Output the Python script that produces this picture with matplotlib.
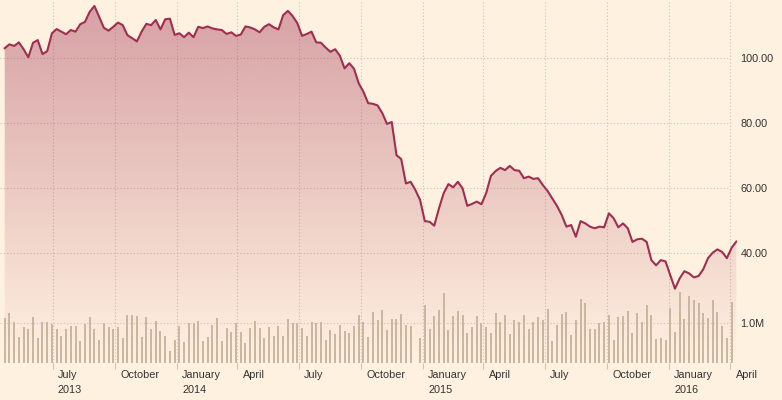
import numpy as np
import pandas as pd
import matplotlib
matplotlib.use('Agg')
import matplotlib.pyplot as plt
import matplotlib.dates as mdates
import matplotlib.transforms as mtransforms
from matplotlib.colors import to_rgb

# ---------------- data ----------------
series_start = '2013-04-21'   # weekly observations
price = [103.1, 104.3, 103.8, 104.9, 102.8, 100.3, 104.8, 105.6, 101.3, 102.2,
         107.7, 109.0, 108.2, 107.4, 108.7, 108.2, 110.5, 111.2, 114.3, 116.1,
         112.8, 109.4, 108.5, 109.7, 111.0, 110.2, 107.1, 106.2, 105.2, 108.2,
         110.6, 110.2, 111.8, 108.9, 112.0, 112.2, 107.2, 107.7, 106.5, 107.9,
         106.5, 109.7, 109.3, 109.8, 109.2, 108.9, 108.7, 107.5, 108.0, 106.9,
         107.3, 109.8, 109.5, 108.9, 108.0, 109.7, 110.5, 109.5, 108.9, 113.3,
         114.6, 113.0, 110.8, 106.9, 107.5, 108.2, 104.9, 104.8, 103.3, 102.0,
         102.8, 100.8, 96.9, 98.5, 96.8, 92.3, 89.7, 86.2, 86.0, 85.5,
         83.1, 79.8, 80.4, 70.2, 69.0, 61.5, 62.0, 59.5, 56.4, 49.9,
         49.7, 48.5, 53.8, 58.5, 61.3, 60.3, 62.0, 60.0, 54.6, 55.2,
         55.9, 55.1, 58.5, 63.8, 65.3, 66.3, 65.6, 66.9, 65.6, 65.4,
         63.1, 63.6, 62.9, 63.1, 61.0, 59.2, 56.9, 54.6, 51.8, 48.2,
         48.7, 45.1, 49.9, 49.2, 48.2, 47.7, 48.2, 48.0, 52.3, 50.8,
         48.0, 49.2, 47.7, 43.5, 44.3, 44.5, 43.5, 37.9, 36.3, 37.9,
         37.5, 33.3, 29.1, 32.3, 34.5, 33.8, 32.6, 33.0, 35.1, 38.5,
         40.2, 41.2, 40.4, 38.5, 41.7, 43.6]

volume_m = [1.13, 1.25, 1.03, 0.64, 0.90, 0.85, 1.15, 0.62, 1.03, 1.03,
            0.98, 0.85, 0.69, 0.86, 0.93, 0.92, 0.55, 0.98, 1.15, 0.85,
            0.57, 1.00, 0.90, 0.85, 0.90, 0.62, 1.21, 1.21, 1.19, 0.64,
            1.15, 0.85, 1.05, 0.80, 0.67, 0.29, 0.57, 0.93, 0.53, 1.00,
            1.00, 1.05, 0.55, 0.64, 0.96, 1.13, 0.55, 0.87, 0.78, 1.00,
            0.77, 0.49, 0.87, 1.05, 0.87, 0.62, 0.90, 0.69, 0.93, 0.67,
            1.10, 1.00, 1.00, 0.87, 0.67, 1.03, 1.00, 1.03, 0.57, 0.82,
            0.73, 0.95, 0.80, 0.75, 0.92, 1.20, 1.03, 0.64, 1.28, 1.08,
            1.33, 0.82, 1.10, 1.10,
            1.23, 0.96, 0.93, 0.00, 0.62, 1.47, 0.85, 1.19, 1.34, 1.76,
            0.83, 1.19, 1.31, 1.21, 0.75, 0.90, 1.19, 1.00, 0.90, 0.75,
            1.25, 1.03, 1.21, 0.73, 1.08, 1.04, 1.20, 0.85, 1.04, 1.15,
            1.08, 1.36, 0.55, 0.96, 1.24, 1.29, 0.70, 1.08, 1.61, 1.52,
            0.85, 0.85, 1.00, 1.03, 1.20, 0.58, 1.15, 1.18, 1.31, 0.75,
            1.26, 1.03, 1.47, 1.21, 0.60, 0.63, 0.58, 1.38, 0.78, 1.80,
            1.10, 1.69, 1.59, 1.52, 1.26, 1.13, 1.59, 1.29, 0.93, 0.63,
            1.53]

price_ticks = [40, 60, 80, 100]
price_tick_labels = ['40.00', '60.00', '80.00', '100.00']
volume_ticks = [1.0]
volume_tick_labels = ['1.0M']

tick_dates = ['2013-07-01', '2013-10-01', '2014-01-01', '2014-04-01', '2014-07-01',
              '2014-10-01', '2015-01-01', '2015-04-01', '2015-07-01', '2015-10-01',
              '2016-01-01', '2016-04-01']
tick_months = ['July', 'October', 'January', 'April', 'July', 'October',
               'January', 'April', 'July', 'October', 'January', 'April']
tick_years = ['2013', '', '2014', '', '', '', '2015', '', '', '', '2016', '']

# ---------------- style ----------------
BG = '#fff1e0'
LINE = '#9e2f50'
GRID = '#cdc2b6'
BAR = '#c9b7a2'
TXT = '#333333'
FONT = 'Liberation Sans'
FS = 7.85

plt.rcParams['font.family'] = [FONT, 'DejaVu Sans']

dates = pd.date_range(series_start, periods=len(price), freq='7D')
vol_dates = dates[:len(volume_m)]
tdates = pd.to_datetime(tick_dates)

x_left = pd.Timestamp('2013-04-14')
x_right = pd.Timestamp('2016-04-11')
p_lo, p_hi = 6.34, 117.94
v_hi = 9.206

W, H = 782, 400
fig = plt.figure(figsize=(W / 100, H / 100), dpi=100, facecolor=BG)
rect = [0.0, (H - 362.7) / H, 737 / W, 362.7 / H]
axv = fig.add_axes(rect, facecolor=BG, zorder=2)
axp = fig.add_axes(rect, facecolor='none', zorder=1, sharex=axv)
axv.set_facecolor('none')
fig.patch.set_facecolor(BG)

# volume bars (drawn on top of the price fill)
axv.bar(vol_dates, volume_m, width=3.0, color=BAR, linewidth=0, zorder=2)
axv.set_ylim(0, v_hi)
axv.hlines(volume_ticks, x_left, tdates[-1], colors=GRID, linewidth=0.8,
           linestyles=(0, (1, 2)), zorder=1)

# price gradient fill
poly = axp.fill_between(dates, price, p_lo, facecolor='none', edgecolor='none')
x0n, x1n = mdates.date2num(x_left), mdates.date2num(x_right)
n = 256
img = np.zeros((n, 1, 4))
img[..., :3] = to_rgb(LINE)
img[..., 3] = np.linspace(0.42, 0.0, n)[:, None]
im = axp.imshow(img, aspect='auto', extent=[x0n, x1n, p_lo, p_hi],
                origin='upper', zorder=1, interpolation='bilinear')
im.set_clip_path(poly.get_paths()[0], transform=axp.transData)
axp.hlines(price_ticks, x_left, tdates[-1], colors=GRID, linewidth=0.8,
           linestyles=(0, (1, 2)), zorder=0.5)

axp.set_ylim(p_lo, p_hi)
axp.set_xlim(x_left, x_right)

# price line in the top axes so it stays above the bars
axl = fig.add_axes(rect, facecolor='none', zorder=3, sharex=axv)
axl.plot(dates, price, color=LINE, linewidth=1.5, zorder=3,
         solid_joinstyle='round')
axl.set_ylim(p_lo, p_hi)
axl.axis('off')

# x ticks / vertical grid
axp.set_xticks(tdates)
axp.grid(axis='x', color=GRID, linewidth=0.8, linestyle=(0, (1, 2)))
axp.set_axisbelow(True)
axp.tick_params(axis='x', direction='out', length=4.3, width=0.8, color=GRID,
                labelbottom=False)
axv.tick_params(axis='x', bottom=False, labelbottom=False)
axp.set_xlim(x_left, x_right)

# y labels on right
axp.yaxis.tick_right()
axp.set_yticks(price_ticks, price_tick_labels)
axp.tick_params(axis='y', length=0, pad=2.5, labelsize=FS, labelcolor=TXT,
                left=False, labelleft=False)
axv.yaxis.tick_right()
axv.set_yticks(volume_ticks, volume_tick_labels)
axv.tick_params(axis='y', length=0, pad=2.5, labelsize=FS, labelcolor=TXT,
                left=False, labelleft=False)
for lab in axp.get_yticklabels() + axv.get_yticklabels():
    lab.set_fontfamily(FONT)

for ax in (axv, axp):
    for s in ax.spines.values():
        s.set_visible(False)

# month / year labels
base = mtransforms.blended_transform_factory(axp.transData, axp.transAxes)
for d, m, y in zip(tdates, tick_months, tick_years):
    t1 = base + mtransforms.ScaledTranslation(5.4 / 100, -15.3 / 100, fig.dpi_scale_trans)
    axp.text(d, 0, m, transform=t1, ha='left', va='baseline', fontsize=FS,
             color=TXT, clip_on=False, fontfamily=FONT)
    if y:
        t2 = base + mtransforms.ScaledTranslation(5.4 / 100, -30.2 / 100, fig.dpi_scale_trans)
        axp.text(d, 0, y, transform=t2, ha='left', va='baseline', fontsize=FS,
                 color=TXT, clip_on=False, fontfamily=FONT)

fig.savefig('out.png', dpi=100, facecolor=BG)
